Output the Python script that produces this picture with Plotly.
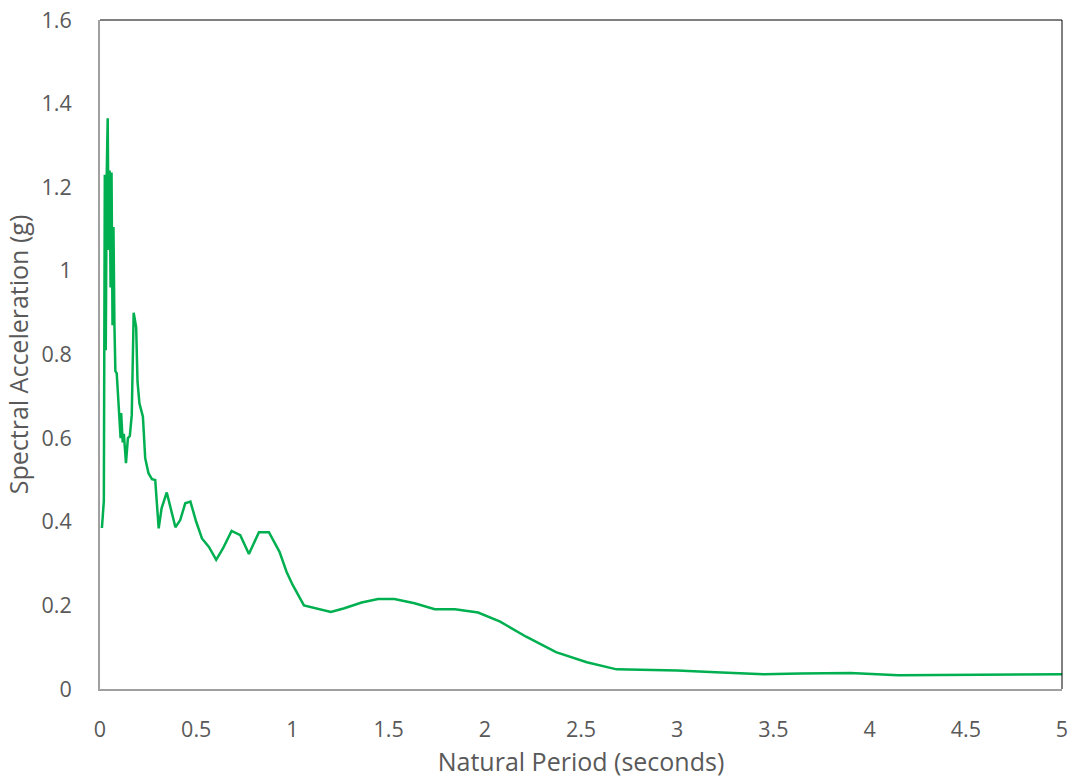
import plotly.graph_objects as go

period = [0.01, 0.02, 0.025, 0.03, 0.035, 0.04, 0.045, 0.05, 0.055, 0.06, 0.065,
          0.07, 0.075, 0.08, 0.087, 0.095, 0.1, 0.107, 0.11, 0.118, 0.124, 0.135,
          0.145, 0.155, 0.165, 0.175, 0.188, 0.195, 0.205, 0.223, 0.235, 0.252,
          0.27, 0.287, 0.305, 0.32, 0.347, 0.392, 0.417, 0.443, 0.47, 0.5, 0.53,
          0.566, 0.604, 0.639, 0.684, 0.729, 0.774, 0.826, 0.878, 0.933, 0.97,
          1.0, 1.06, 1.2, 1.27, 1.36, 1.445, 1.53, 1.635, 1.74, 1.845, 1.965,
          2.08, 2.215, 2.37, 2.53, 2.685, 3.0, 3.2, 3.45, 3.64, 3.9, 4.15, 4.5,
          4.75, 5.0]
spectral_acc = [0.385, 0.45, 1.23, 0.81, 1.23, 1.365, 1.05, 1.24, 0.96, 1.235, 0.87,
                1.105, 0.87, 0.76, 0.755, 0.70, 0.66, 0.60, 0.66, 0.59, 0.61, 0.54,
                0.60, 0.605, 0.655, 0.90, 0.865, 0.735, 0.683, 0.651, 0.552, 0.516,
                0.502, 0.50, 0.384, 0.432, 0.47, 0.387, 0.404, 0.444, 0.448, 0.40, 0.36,
                0.34, 0.309, 0.336, 0.378, 0.368, 0.323, 0.375, 0.375, 0.328, 0.28,
                0.25, 0.20, 0.184, 0.193, 0.207, 0.215, 0.215, 0.205, 0.191, 0.191, 0.183,
                0.161, 0.125, 0.088, 0.064, 0.047, 0.044, 0.040, 0.035, 0.037, 0.038, 0.033, 0.034,
                0.033, 0.035]

x_ticks = [0, 0.5, 1, 1.5, 2, 2.5, 3, 3.5, 4, 4.5, 5]
y_ticks = [0, 0.2, 0.4, 0.6, 0.8, 1.0, 1.2, 1.4, 1.6]

font_family = "'Open Sans', sans-serif"
text_color = "#595959"
axis_gray = "#A0A0A0"

fig = go.Figure()
fig.add_trace(go.Scatter(
    x=period, y=spectral_acc, mode="lines",
    line=dict(color="#00B050", width=2.5),
    showlegend=False, hoverinfo="x+y",
))

fig.update_layout(
    width=1072, height=778,
    margin=dict(l=100, r=10, t=20, b=89),
    paper_bgcolor="white", plot_bgcolor="white",
    font=dict(family=font_family, color=text_color, size=21),
    xaxis=dict(
        range=[0, 5], tickmode="array", tickvals=x_ticks,
        ticktext=[f"{v:g}" for v in x_ticks],
        showgrid=False, zeroline=False, automargin=False,
        showline=True, linecolor=axis_gray, linewidth=2,
        ticks="", ticklabelstandoff=20,
        tickfont=dict(size=21.5, color=text_color),
        title=dict(text="Natural Period (seconds)", font=dict(size=25, color=text_color), standoff=12),
    ),
    yaxis=dict(
        range=[0, 1.6], tickmode="array", tickvals=y_ticks,
        ticktext=[f"{v:g}" for v in y_ticks],
        showgrid=False, zeroline=False, automargin=False,
        showline=True, linecolor=axis_gray, linewidth=2,
        ticks="", ticklabelstandoff=22,
        tickfont=dict(size=21.5, color=text_color),
        title=dict(text="Spectral Acceleration (g)", font=dict(size=25, color=text_color), standoff=6),
    ),
)

# top and right frame edges (black)
fig.add_shape(type="line", xref="paper", yref="paper", x0=0, x1=1, y0=1, y1=1,
              line=dict(color="black", width=1))
fig.add_shape(type="line", xref="paper", yref="paper", x0=1, x1=1, y0=0, y1=1,
              line=dict(color="black", width=1))

fig.write_html("out.html")
